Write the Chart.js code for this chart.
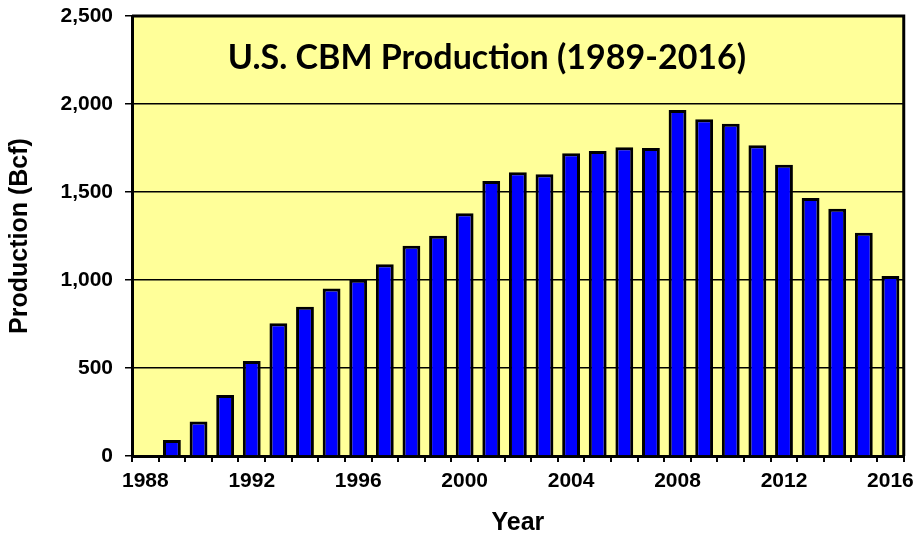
<!DOCTYPE html>
<html>
<head>
<meta charset="utf-8">
<script src="https://cdn.jsdelivr.net/npm/chart.js@4.4.0/dist/chart.umd.min.js"></script>
<style>
  html, body { margin: 0; padding: 0; background: #ffffff; }
  #wrap { width: 921px; height: 540px; }
</style>
</head>
<body>
<div id="wrap"><canvas id="cbmChart" width="921" height="540"></canvas></div>
<script>
// years on the category axis (1988 is an empty slot, as in the original)
const years = ['1988', '1989', '1990', '1991', '1992', '1993', '1994', '1995', '1996', '1997',
  '1998', '1999', '2000', '2001', '2002', '2003', '2004', '2005', '2006', '2007',
  '2008', '2009', '2010', '2011', '2012', '2013', '2014', '2015', '2016'];

// production, Bcf
const production = [null, 91, 196, 347, 540, 754, 848, 951, 1002, 1089,
  1194, 1252, 1379, 1563, 1612, 1601, 1720, 1733, 1754, 1750,
  1966, 1914, 1888, 1765, 1655, 1466, 1405, 1269, 1023];

const yTicks = [0, 500, 1000, 1500, 2000, 2500];
const shownYears = ['1988', '1992', '1996', '2000', '2004', '2008', '2012', '2016'];

const titleText = 'U.S. CBM Production (1989-2016)';

// yellow plot background, frame and the in-plot title
const plotDecor = {
  id: 'plotDecor',
  beforeDraw(chart) {
    const { ctx, chartArea: a } = chart;
    ctx.save();
    ctx.fillStyle = '#FFFF99';
    ctx.fillRect(a.left, a.top, a.right - a.left, a.bottom - a.top);
    ctx.restore();
  },
  afterDraw(chart) {
    const { ctx, chartArea: a } = chart;
    ctx.save();
    ctx.strokeStyle = '#000';
    ctx.lineWidth = 3;
    ctx.beginPath();
    ctx.moveTo(a.left, a.top);
    ctx.lineTo(a.right, a.top);
    ctx.lineTo(a.right, a.bottom);
    ctx.stroke();

    // fit title width to the original
    let size = 32;
    ctx.font = 'bold ' + size + 'px Lato, "Open Sans", sans-serif';
    const w = ctx.measureText(titleText).width;
    size = size * 519 / w;
    ctx.font = 'bold ' + size.toFixed(1) + 'px Lato, "Open Sans", sans-serif';
    ctx.fillStyle = '#000';
    ctx.textAlign = 'center';
    ctx.textBaseline = 'alphabetic';
    ctx.fillText(titleText, 487, 69);
    ctx.restore();
  }
};

const tickFont = { family: 'Arial, "Liberation Sans", sans-serif', size: 21, weight: 'bold' };
const axisTitleFont = { family: 'Arial, "Liberation Sans", sans-serif', size: 25, weight: 'bold' };

new Chart(document.getElementById('cbmChart'), {
  type: 'bar',
  data: {
    labels: years,
    datasets: [{
      label: 'Production (Bcf)',
      data: production,
      backgroundColor: '#0000FF',
      borderColor: '#000000',
      borderWidth: 3,
      barPercentage: 0.67,
      categoryPercentage: 1.0
    }]
  },
  options: {
    responsive: false,
    animation: false,
    layout: { padding: { left: 0, top: 16, right: 12, bottom: 0 } },
    plugins: {
      legend: { display: false },
      tooltip: { enabled: false }
    },
    scales: {
      x: {
        afterFit(scale) { scale.height = 84; },
        grid: {
          offset: true,
          drawOnChartArea: false,
          drawTicks: true,
          tickLength: 6,
          color: '#000',
          lineWidth: 2
        },
        border: { color: '#000', width: 3 },
        ticks: {
          autoSkip: false,
          maxRotation: 0,
          padding: 7,
          color: '#000',
          font: tickFont,
          callback(value, index) {
            const lab = years[index];
            return shownYears.includes(lab) ? lab : '';
          }
        },
        title: {
          display: true,
          text: 'Year',
          color: '#000',
          font: axisTitleFont,
          padding: { top: 0, bottom: 2 }
        }
      },
      y: {
        min: 0,
        max: 2500,
        afterFit(scale) {
          scale.width = 132;
          scale.paddingTop = 0;
          scale.paddingBottom = 0;
        },
        afterBuildTicks(scale) {
          scale.ticks = yTicks.map(v => ({ value: v }));
        },
        grid: {
          drawOnChartArea: true,
          drawTicks: true,
          tickLength: 7,
          color: '#000',
          lineWidth: 1.5
        },
        border: { color: '#000', width: 3 },
        ticks: {
          padding: 12,
          color: '#000',
          font: tickFont,
          callback(value) { return value.toLocaleString('en-US'); }
        },
        title: {
          display: true,
          text: 'Production (Bcf)',
          color: '#000',
          font: axisTitleFont,
          padding: { top: 5, bottom: 0 }
        }
      }
    }
  },
  plugins: [plotDecor]
});
</script>
</body>
</html>
